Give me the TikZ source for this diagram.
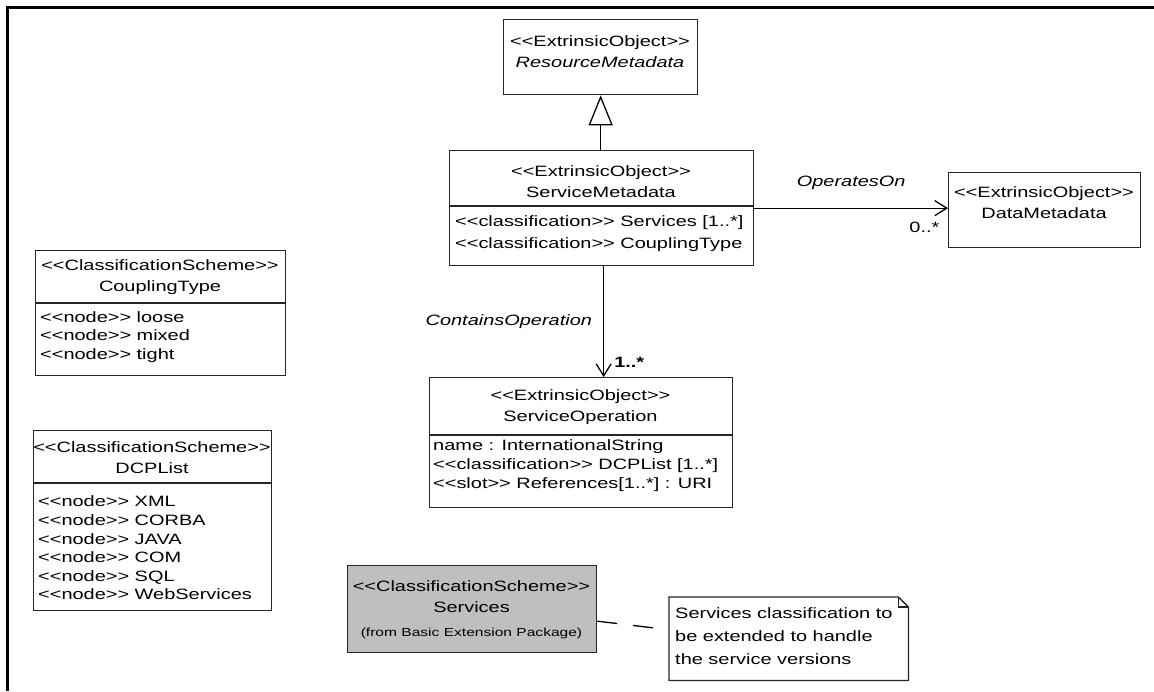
\documentclass[tikz,border=0pt]{standalone}
\usepackage{fontspec}
\newfontfamily\umlfont{Liberation Sans}[FakeStretch=1.33]
\usetikzlibrary{positioning,arrows.meta}
\tikzset{
    umlbox/.style={draw=black!85, line width=1.3pt, fill=white, inner sep=0pt, anchor=north west},
    umltext/.style={font=\umlfont\fontsize{15}{21}\selectfont, inner sep=0pt, align=center},
    umlitems/.style={umltext, font=\umlfont\fontsize{15}{#1}\selectfont, align=left, anchor=west},
    umlitems/.default=18.6,
    rolename/.style={umltext, font=\umlfont\itshape\fontsize{15}{19}\selectfont},
    mult/.style={umltext},
    assoc/.style={line width=1.3pt, -{Straight Barb[length=12pt,width=15pt]}},
    generalize/.style={line width=1.3pt, -{Triangle[open,length=30pt,width=24pt,fill=white]}},
    notelink/.style={line width=1.3pt, dash pattern=on 20pt off 16pt},
    divider/.style={line width=1.3pt, draw=black!85},
}

\begin{document}
\begin{tikzpicture}[x=1pt, y=-1pt]
\useasboundingbox (0,0) rectangle (1154,691);
%frame, top and left edge only
\draw[line width=3pt] (7,691) -- (7,7) -- (1154,7);

%classes on top
\node[umlbox, minimum width=194pt, minimum height=75pt] (resource) at (503,19) {};
\node[umltext] (resource-name) at (600,52) {<<ExtrinsicObject>>\\\textit{ResourceMetadata}};

\node[umlbox, minimum width=304pt, minimum height=115pt] (service) at (449,150) {};
\draw[divider] ([yshift=-56pt]service.north west) -- ([yshift=-56pt]service.north east);
\node[umltext] (service-name) at (601,182) {<<ExtrinsicObject>>\\ServiceMetadata};
\node[umlitems=22] (service-attr) at (455,234) {<<classification>> Services [1..*]\\<<classification>> CouplingType};

\node[umlbox, minimum width=192pt, minimum height=75pt] (data) at (948,172) {};
\node[umltext] (data-name) at (1044,203) {<<ExtrinsicObject>>\\DataMetadata};

%classification schemes on the left
\node[umlbox, minimum width=250pt, minimum height=125pt] (coupling) at (35,250) {};
\draw[divider] ([yshift=-53pt]coupling.north west) -- ([yshift=-53pt]coupling.north east);
\node[umltext] (coupling-name) at (160,277) {<<ClassificationScheme>>\\CouplingType};
\node[umlitems] (coupling-list) at (40,337) {<<node>> loose\\<<node>> mixed\\<<node>> tight};

\node[umlbox, minimum width=238pt, minimum height=180pt] (dcplist) at (33,430) {};
\draw[divider] ([yshift=-53pt]dcplist.north west) -- ([yshift=-53pt]dcplist.north east);
\node[umltext] (dcplist-name) at (152,458) {<<ClassificationScheme>>\\DCPList};
\node[umlitems] (dcplist-list) at (38,548) {<<node>> XML\\<<node>> CORBA\\<<node>> JAVA\\<<node>> COM\\<<node>> SQL\\<<node>> WebServices};

%operation
\node[umlbox, minimum width=303pt, minimum height=130pt] (operation) at (429,377) {};
\draw[divider] ([yshift=-58pt]operation.north west) -- ([yshift=-58pt]operation.north east);
\node[umltext] (operation-name) at (580.5,407) {<<ExtrinsicObject>>\\ServiceOperation};
\node[umlitems=19] (operation-attr) at (433,466) {name : InternationalString\\<<classification>> DCPList [1..*]\\<<slot>> References[1..*] : URI};

%imported scheme and note
\node[umlbox, fill=black!25, minimum width=249pt, minimum height=87pt] (services) at (347,565) {};
\node[umltext] (services-name) at (471.5,597) {<<ClassificationScheme>>\\Services};
\node[umltext, font=\umlfont\fontsize{11.7}{14}\selectfont] (services-pkg) at (471.5,633) {(from Basic Extension Package)};

\node[minimum width=239pt, minimum height=83pt, inner sep=0pt, anchor=north west] (note) at (669,597) {};
\draw[line width=1.3pt, draw=black!85, fill=white] (note.north west) -- ([xshift=-10pt]note.north east) -- ([yshift=-10pt]note.north east) -- (note.south east) -- (note.south west) -- cycle;
\draw[line width=1.3pt, draw=black!85] ([xshift=-10pt]note.north east) |- ([yshift=-10pt]note.north east);
\node[umlitems=23, anchor=north west] (note-text) at (675,607) {Services classification to\\be extended to handle\\the service versions};

%connectors
\draw[generalize] (resource.south |- service.north) -- (resource.south);
\draw[assoc] (service.east) -- node[rolename, above=18pt] (operates-label) {OperatesOn} (service.east -| data.west) node[mult, below left=13pt and 8pt] (operates-mult) {0..*};
\draw[assoc] ([xshift=2pt]service.south) -- node[rolename, left=11pt] (contains-label) {ContainsOperation} ([xshift=2pt]service.south |- operation.north) node[mult, above right=9pt and 10pt] (contains-mult) {\bfseries 1..*};
\draw[notelink] ([yshift=-12pt]services.east) -- ([xshift=-9pt,yshift=10pt]note.west);
\end{tikzpicture}
\end{document}
